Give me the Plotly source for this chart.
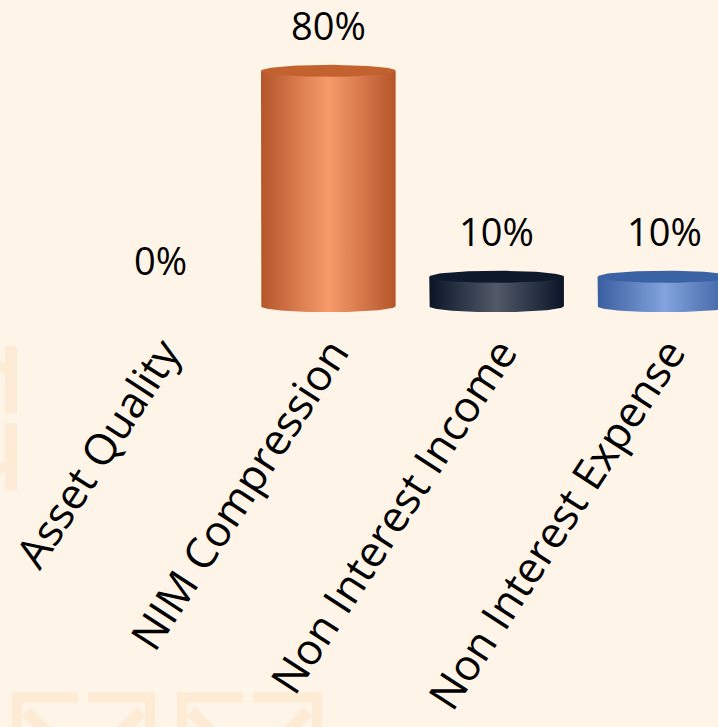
import numpy as np
import plotly.graph_objects as go

# --- data -------------------------------------------------------------
categories = ["Asset Quality", "NIM Compression", "Non Interest Income", "Non Interest Expense"]
values = [0, 80, 10, 10]                      # percent
value_labels = ["0%", "80%", "10%", "10%"]

# cylinder colours: (edge, highlight, top cap)
palettes = [
    ("#B5552A", "#F79B6B", "#C4622F"),
    ("#B5552A", "#F79B6B", "#C4622F"),
    ("#0B1527", "#525A69", "#0E192C"),
    ("#3A5E9F", "#82A3DC", "#3C62A6"),
]

BG = "#FEF4E7"
MARK = "#FDEBD5"
W, H = 718, 727

# --- geometry ------------------------------------------------------------
bar_half = 0.40                 # half width of a cylinder in category units
px_per_unit = 2.94              # vertical pixels per percentage point
ry = 6 / px_per_unit            # ellipse half-height in data units
base_px = 306                   # pixel row of the zero line
y_min = -3.0
y_max = base_px / px_per_unit
plot_bottom_px = base_px - y_min * px_per_unit
step_px = 168.3
x0 = -160 / step_px
x1 = x0 + W / step_px

fig = go.Figure()

t = np.linspace(0, np.pi, 60)
for i, (v, pal) in enumerate(zip(values, palettes)):
    if v <= 0:
        continue
    edge, light, cap = pal
    xl, xr = i - bar_half, i + bar_half
    # body: left side down, front half of the bottom ellipse, right side up
    bx = np.cos(np.pi - t) * bar_half + i
    by = -ry * np.sin(t)
    xs = np.concatenate([[xl], bx, [xr, xl]])
    ys = np.concatenate([[v], by, [v, v]])
    fig.add_trace(go.Scatter(
        x=xs, y=ys, mode="lines", fill="toself", line=dict(width=0),
        fillgradient=dict(
            type="horizontal",
            colorscale=[[0, edge], [0.5, light], [1, edge]],
            start=xl, stop=xr,
        ),
        hoverinfo="skip", showlegend=False,
    ))
    # top cap
    tt = np.linspace(0, 2 * np.pi, 120)
    fig.add_trace(go.Scatter(
        x=i + bar_half * np.cos(tt), y=v + ry * np.sin(tt),
        mode="lines", fill="toself", fillcolor=cap, line=dict(width=0),
        hoverinfo="skip", showlegend=False,
    ))

# value labels above each cylinder
for i, (v, lab) in enumerate(zip(values, value_labels)):
    fig.add_annotation(
        x=i, y=v, text=lab, showarrow=False, yshift=46, yanchor="middle",
        font=dict(family="Open Sans", size=38, color="#000000"),
    )

# faint logo marks in the background
def px_x(p):
    return p / W

def px_y(p):
    return (plot_bottom_px - p) / plot_bottom_px

def mark_line(xa, ya, xb, yb, width=10):
    fig.add_shape(type="line", xref="paper", yref="paper", layer="below",
                  x0=px_x(xa), y0=px_y(ya), x1=px_x(xb), y1=px_y(yb),
                  line=dict(color=MARK, width=width))

for left, right, gap_l, gap_r in [(12, 155, 78, 88), (177, 322, 243, 253)]:
    top = 697
    mark_line(left, top, gap_l, top)
    mark_line(gap_r, top, right, top)
    mark_line(left + 5, top - 5, left + 5, H + 10)
    mark_line(right - 5, top - 5, right - 5, H + 10)
    mark_line(left + 14, top + 14, left + 50, H + 20, width=12)
    mark_line(right - 14, top + 14, right - 50, H + 20, width=12)

mark_line(11, 346, 11, 413, width=12)
mark_line(11, 423, 11, 490, width=12)
mark_line(-2, 363, 6, 372, width=8)
mark_line(-2, 472, 6, 463, width=8)

fig.update_layout(
    width=W, height=H,
    margin=dict(l=0, r=0, t=0, b=H - plot_bottom_px, pad=0),
    paper_bgcolor=BG, plot_bgcolor="rgba(0,0,0,0)",
    showlegend=False,
    xaxis=dict(
        range=[x0, x1], tickvals=list(range(len(categories))), ticktext=categories,
        tickangle=-57, showgrid=False, zeroline=False, showline=False,
        ticks="", automargin=False, fixedrange=True, ticklabeloverflow="allow",
        ticklabelshift=4, ticklabelstandoff=3,
        tickfont=dict(family="Open Sans", size=43, color="#000000"),
    ),
    yaxis=dict(
        range=[y_min, y_max], visible=False, fixedrange=True,
    ),
)

fig.write_html("out.html")
